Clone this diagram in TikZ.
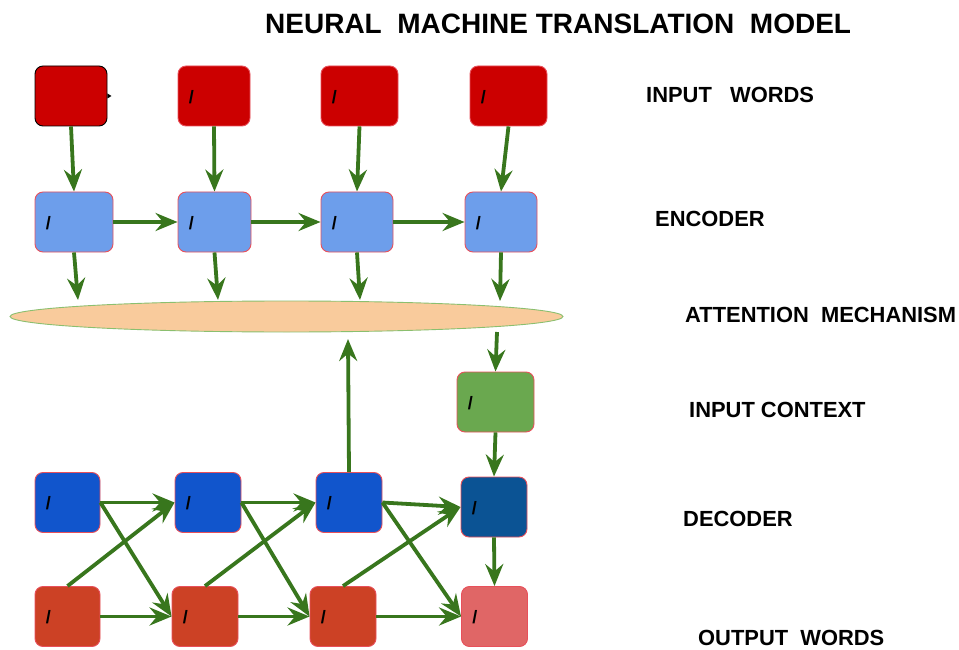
\documentclass[tikz,border=0pt]{standalone}
\usepackage{fontspec}
\setmainfont{Liberation Sans}
\usetikzlibrary{arrows.meta,shapes.geometric,calc}
\definecolor{inred}{HTML}{CC0000}
\definecolor{bred}{HTML}{E8505B}
\definecolor{encblue}{HTML}{6D9EEB}
\definecolor{peach}{HTML}{F9CB9C}
\definecolor{elgreen}{HTML}{8BBF6F}
\definecolor{ctxgreen}{HTML}{6AA84F}
\definecolor{decblue}{HTML}{1155CC}
\definecolor{decdark}{HTML}{0B5394}
\definecolor{outred}{HTML}{CC4125}
\definecolor{outpink}{HTML}{E06666}
\definecolor{agreen}{HTML}{38761D}
\tikzset{
  x=1pt,y=-1pt,
  boxbase/.style={rectangle,rounded corners=8pt,draw=bred,line width=0.9pt,minimum height=60pt,inner sep=0pt},
  slashbox/.style={boxbase,label={[anchor=west,xshift=11pt,yshift=-1pt,font=\fontsize{18}{18}\selectfont\bfseries,inner sep=0pt]west:/}},
  conn/.style={draw=agreen,line width=3.8pt,-{Stealth[length=22pt,width=18pt,inset=7.5pt]}},
  lbl/.style={anchor=base west,font=\fontsize{21.9}{22}\selectfont\bfseries,inner sep=0pt},
}
\begin{document}
\begin{tikzpicture}
\useasboundingbox (0,0) rectangle (959,650);
% title
\node[anchor=base west,font=\fontsize{28}{28}\selectfont\bfseries,inner sep=0pt] (title) at (265,34) {NEURAL\ \ MACHINE TRANSLATION\ \ MODEL};
% labels
\node[lbl] (lin) at (646,103) {INPUT\ \ \ WORDS};
\node[lbl] (lenc) at (655,226) {ENCODER};
\node[lbl] (latt) at (685,322) {ATTENTION\ \ MECHANISM};
\node[lbl] (lctx) at (689,417) {INPUT CONTEXT};
\node[lbl] (ldec) at (683,526) {DECODER};
\node[lbl] (lout) at (698,645) {OUTPUT\ \ WORDS};
% input words
\node[boxbase,draw=black,fill=inred,minimum width=72pt] (i1) at (71,96) {};
\node[slashbox,fill=inred,minimum width=72pt] (i2) at (214,96) {};
\node[slashbox,fill=inred,minimum width=77pt] (i3) at (359.5,96) {};
\node[slashbox,fill=inred,minimum width=77pt] (i4) at (508.5,96) {};
\fill[black] ($(i1.east)+(0,-2.5)$) -- ++(4,2.5) -- ++(-4,2.5) -- cycle;
% encoder
\node[slashbox,fill=encblue,minimum width=78pt] (e1) at (74,222) {};
\node[slashbox,fill=encblue,minimum width=73pt] (e2) at (214.5,222) {};
\node[slashbox,fill=encblue,minimum width=72pt] (e3) at (357,222) {};
\node[slashbox,fill=encblue,minimum width=72pt] (e4) at (501,222) {};
% attention
\node[ellipse,draw=elgreen,line width=0.9pt,fill=peach,minimum width=553pt,minimum height=31pt,inner sep=0pt] (att) at (286.5,316.5) {};
\coordinate (a1) at (78,300);
\coordinate (a2) at (218,300);
\coordinate (a3) at (360,300);
\coordinate (a4) at (500,301);
\coordinate (b4) at (497,332);
\coordinate (up) at (348,339);
% context
\node[slashbox,fill=ctxgreen,minimum width=77pt] (ctx) at (495.5,402) {};
% decoder
\node[slashbox,fill=decblue,minimum width=65pt] (d1) at (67.5,502.5) {};
\node[slashbox,fill=decblue,minimum width=66pt] (d2) at (208,502.5) {};
\node[slashbox,fill=decblue,minimum width=66pt] (d3) at (349,502.5) {};
\node[slashbox,fill=decdark,minimum width=66pt] (d4) at (494,507) {};
% output
\node[slashbox,fill=outred,minimum width=65pt] (o1) at (67.5,616.5) {};
\node[slashbox,fill=outred,minimum width=66pt] (o2) at (205,616.5) {};
\node[slashbox,fill=outred,minimum width=66pt] (o3) at (343,616.5) {};
\node[slashbox,fill=outpink,minimum width=66pt] (o4) at (494.5,616.5) {};
% connectors
\foreach \k in {1,2,3,4} {
  \draw[conn] (i\k.south) -- (e\k.north);
  \draw[conn] (e\k.south) -- (a\k);
}
\draw[conn] (e1.east) -- (e2.west);
\draw[conn] (e2.east) -- (e3.west);
\draw[conn] (e3.east) -- (e4.west);
\draw[conn] (b4) -- (ctx.north);
\draw[conn] (ctx.south) -- (d4.north);
\draw[conn] (d4.south) -- (o4.north);
\draw[conn] (d3.north) -- (up);
\draw[conn] (d1.east) -- (d2.west);
\draw[conn] (d2.east) -- (d3.west);
\draw[conn] (d3.east) -- (d4.west);
\draw[conn] (o1.east) -- (o2.west);
\draw[conn] (o2.east) -- (o3.west);
\draw[conn] (o3.east) -- (o4.west);
\draw[conn] (d1.east) -- (o2.west);
\draw[conn] (d2.east) -- (o3.west);
\draw[conn] (d3.east) -- (o4.west);
\draw[conn] (o1.north) -- (d2.west);
\draw[conn] (o2.north) -- (d3.west);
\draw[conn] (o3.north) -- (d4.west);
\end{tikzpicture}
\end{document}
